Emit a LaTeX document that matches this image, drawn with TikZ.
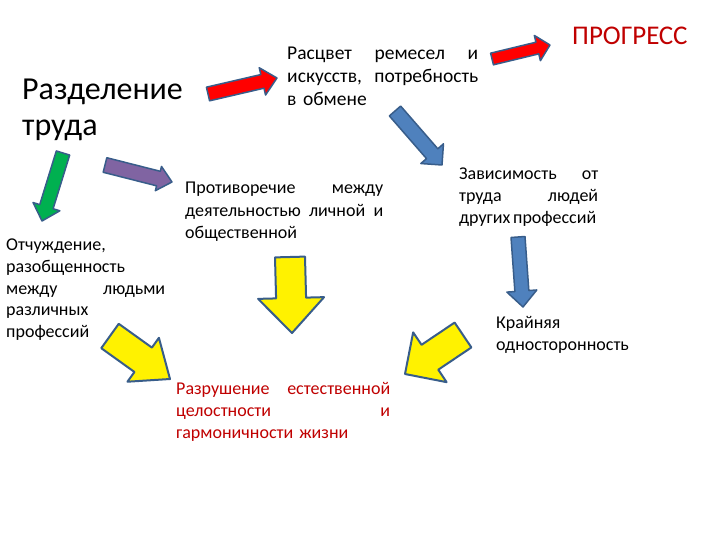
\documentclass[tikz,border=0pt]{standalone}
\usepackage{fontspec}
\setmainfont{Carlito}
\usetikzlibrary{calc}
\definecolor{arrline}{HTML}{385D8A}
\definecolor{darkred}{HTML}{C00000}
\definecolor{officeblue}{HTML}{4F81BD}
\definecolor{officepurple}{HTML}{8064A2}
\definecolor{officegreen}{HTML}{00B050}

\tikzset{
  txt/.style={anchor=base west, inner sep=0pt, align=left, text width=200pt,
    font=\fontsize{18}{22}\selectfont},
  arr/.style={draw=arrline, line width=1.5pt, line join=round},
}

% tail, tip, half shaft, half head, head length
\newcommand{\blockarrow}[6]{%
  \coordinate (hb) at ($(#3)!#6!(#2)$);
  \draw[arr,#1] ($(#2)!#4!90:(#3)$) -- ($(hb)!#4!90:(#3)$) -- ($(hb)!#5!90:(#3)$) -- (#3)
    -- ($(hb)!#5!-90:(#3)$) -- ($(hb)!#4!-90:(#3)$) -- ($(#2)!#4!-90:(#3)$) -- cycle;
}

\begin{document}
\begin{tikzpicture}[x=1pt,y=-1pt]
\useasboundingbox[fill=white] (0,0) rectangle (720,540);

\node[txt, font=\fontsize{32}{36}\selectfont] (razd) at (22,100) {Разделение\\труда};
\node[txt, text width=191pt, font=\fontsize{19.5}{23}\selectfont] (rascvet) at (287,60) {Расцвет \hfill ремесел \hfill и\\искусств, \hfill потребность\\в обмене};
\node[txt, font=\fontsize{27}{32}\selectfont, text=darkred] (progress) at (572,45) {ПРОГРЕСС};
\node[txt, text width=198pt] (protiv) at (185,194) {Противоречие \hfill между\\деятельностью \hfill личной \hfill и\\общественной};
\node[txt, text width=139pt] (zavis) at (459,180) {Зависимость \hfill от\\труда \hfill людей\\\mbox{других\hspace{0.15em}профессий}};
\node[txt, text width=159pt] (otchuzh) at (6,250) {Отчуждение,\\разобщенность\\между \hfill людьми\\различных\\профессий};
\node[txt] (krain) at (496,328) {Крайняя\\односторонность};
\node[txt, text width=214pt, text=darkred] (razrush) at (176,394) {Разрушение \hfill естественной\\целостности \hfill и\\гармоничности жизни};

\coordinate (r1s) at (208,94);   \coordinate (r1e) at (277,78);
\coordinate (r2s) at (492,59);   \coordinate (r2e) at (550,45);
\coordinate (b1s) at (395,111);  \coordinate (b1e) at (442,165);
\coordinate (b2s) at (518,237);  \coordinate (b2e) at (523,307);
\coordinate (ps) at (105,165);   \coordinate (pe) at (172,182);
\coordinate (gs) at (63,153);    \coordinate (ge) at (42,221);
\coordinate (y1s) at (290,257);  \coordinate (y1e) at (292,333);
\coordinate (y2s) at (110,336);  \coordinate (y2e) at (170,379);
\coordinate (y3s) at (463,335);  \coordinate (y3e) at (405,374);

\blockarrow{fill=red}{r1s}{r1e}{7pt}{14pt}{15pt}
\blockarrow{fill=red}{r2s}{r2e}{6pt}{13pt}{13pt}
\blockarrow{fill=officeblue}{b1s}{b1e}{7.5pt}{15pt}{15pt}
\blockarrow{fill=officeblue}{b2s}{b2e}{7pt}{15pt}{16pt}
\blockarrow{fill=officepurple}{ps}{pe}{7.5pt}{12.5pt}{14pt}
\blockarrow{fill=officegreen}{gs}{ge}{7pt}{14pt}{15pt}
\blockarrow{fill=yellow, line width=2pt}{y1s}{y1e}{15pt}{33pt}{35pt}
\blockarrow{fill=yellow, line width=2pt}{y2s}{y2e}{15pt}{27pt}{33pt}
\blockarrow{fill=yellow, line width=2pt}{y3s}{y3e}{15pt}{30pt}{30pt}
\end{tikzpicture}
\end{document}
